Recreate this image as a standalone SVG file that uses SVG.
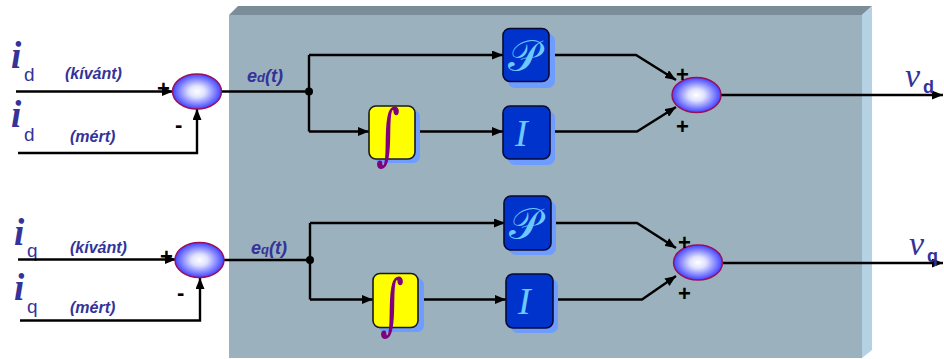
<svg xmlns="http://www.w3.org/2000/svg" width="944" height="359" viewBox="0 0 944 359">
  <defs>
    <radialGradient id="sumFill" cx="0.5" cy="0.5" r="0.55">
      <stop offset="0" stop-color="#ffffff"/>
      <stop offset="0.3" stop-color="#dfe2ff"/>
      <stop offset="1" stop-color="#2a2aff"/>
    </radialGradient>
    <marker id="arrow" markerUnits="userSpaceOnUse" markerWidth="11" markerHeight="9" refX="11" refY="4.5" orient="auto">
      <path d="M0,0 L11,4.5 L0,9 z" fill="#000"/>
    </marker>
  </defs>
  <style>
    .wire { fill: none; stroke: #000; stroke-width: 2.4; }
    .arr { marker-end: url(#arrow); }
    .sum { fill: url(#sumFill); stroke: #99105a; stroke-width: 1.4; }
    .shadow { fill: #6f9cff; }
    .gain { fill: #0033cc; stroke: #0a0a30; stroke-width: 1.6; }
    .integ { fill: #ffff00; stroke: #1a1a1a; stroke-width: 1.6; }
    .gtxt { fill: #6cc8ff; font-family: "Liberation Serif", serif; font-style: italic; font-size: 38px; }
    .ptxt { fill: #6cc8ff; font-family: "DejaVu Serif", serif; font-size: 44px; }
    .itxt { fill: #800080; font-family: "DejaVu Serif", serif; font-size: 46px; }
    .big { fill: #333399; font-family: "Liberation Serif", serif; font-style: italic; font-weight: bold; font-size: 37px; }
    .sub { fill: #333399; font-family: "Liberation Sans", sans-serif; font-size: 19px; }
    .note { fill: #333399; font-family: "Liberation Sans", sans-serif; font-style: italic; font-weight: bold; font-size: 16px; }
    .err { fill: #333399; font-family: "Liberation Sans", sans-serif; font-style: italic; font-weight: bold; font-size: 18px; }
    .sign { fill: #000; font-family: "Liberation Sans", sans-serif; font-weight: bold; font-size: 22px; }
    .out { fill: #333399; font-family: "Liberation Serif", serif; font-style: italic; font-size: 34px; }
    .osub { fill: #333399; font-family: "Liberation Sans", sans-serif; font-weight: bold; font-size: 18px; }
  </style>

  <!-- controller housing (extruded panel) -->
  <g id="housing">
    <polygon points="229,15 238,6 872,6 862,15" fill="#7b8d98"/>
    <polygon points="862,15 872,6 872,350 862,358" fill="#b5d2e4"/>
    <rect x="229" y="15" width="633" height="343" fill="#9bb1be"/>
  </g>

  <!-- input labels -->
  <g id="labels-d">
    <text class="big" x="11" y="68">i</text>
    <text class="sub" x="24" y="81">d</text>
    <text class="note" x="65" y="79">(kívánt)</text>
    <text class="big" x="11" y="127">i</text>
    <text class="sub" x="24" y="141">d</text>
    <text class="note" x="70" y="142">(mért)</text>
    <text class="err" x="247" y="82">e<tspan font-size="13">d</tspan>(t)</text>
  </g>
  <g id="labels-q">
    <text class="big" x="14" y="245">i</text>
    <text class="sub" x="27" y="257">q</text>
    <text class="note" x="70" y="253">(kívánt)</text>
    <text class="big" x="14" y="300">i</text>
    <text class="sub" x="27" y="313">q</text>
    <text class="note" x="70" y="313">(mért)</text>
    <text class="err" x="251" y="254">e<tspan font-size="13">q</tspan>(t)</text>
  </g>

  <!-- connectors -->
  <g id="connectors">
    <path class="wire arr" d="M16,91.5 H173"/>
    <path class="wire arr" d="M18,153 H197 V109"/>
    <path class="wire" d="M221,91.5 H309"/>
    <path class="wire" d="M309,55 V131.5"/>
    <path class="wire arr" d="M309,55 H503"/>
    <path class="wire arr" d="M309,131.5 H369"/>
    <path class="wire arr" d="M415,131.5 H503"/>
    <path class="wire arr" d="M550,55 H636 L676,80"/>
    <path class="wire arr" d="M550,131.5 H637 L676,107"/>
    <path class="wire arr" d="M721,95 H943"/>
    <circle cx="309" cy="91.5" r="4" fill="#000"/>

    <path class="wire arr" d="M18,259.5 H176"/>
    <path class="wire arr" d="M20,320.5 H200 V278"/>
    <path class="wire" d="M224,260 H310"/>
    <path class="wire" d="M310,223 V299.5"/>
    <path class="wire arr" d="M310,223 H505"/>
    <path class="wire arr" d="M310,299.5 H373"/>
    <path class="wire arr" d="M418,299.5 H506"/>
    <path class="wire arr" d="M551,223 H637 L676,248"/>
    <path class="wire arr" d="M553,299.5 H642 L676,276"/>
    <path class="wire arr" d="M722,263 H943"/>
    <circle cx="310" cy="260" r="4" fill="#000"/>
  </g>

  <!-- d-axis channel -->
  <g id="sum-in-d">
    <ellipse class="sum" cx="197" cy="91.5" rx="24.5" ry="17.5"/>
    <text class="sign" x="157" y="96">+</text>
    <text class="sign" x="175" y="132">-</text>
  </g>
  <g id="integ-d">
    <rect class="shadow" x="374" y="110" width="46" height="53" rx="7"/>
    <rect class="integ" x="369" y="106" width="46" height="53" rx="7"/>
    <text class="itxt" x="376" y="158" transform="translate(0,-72) scale(1,1.45)">∫</text>
  </g>
  <g id="p-d">
    <rect class="shadow" x="508" y="34" width="47" height="54" rx="7"/>
    <rect class="gain" x="503" y="28.5" width="46" height="53" rx="7"/>
    <text class="ptxt" x="508" y="71">𝒫</text>
  </g>
  <g id="i-d">
    <rect class="shadow" x="508" y="111" width="47" height="54" rx="7"/>
    <rect class="gain" x="503" y="106" width="47" height="53" rx="7"/>
    <text class="gtxt" x="515" y="146">I</text>
  </g>
  <g id="sum-out-d">
    <ellipse class="sum" cx="696.5" cy="95" rx="24.5" ry="17.5"/>
    <text class="sign" x="676" y="82">+</text>
    <text class="sign" x="676" y="134">+</text>
    <text class="out" x="905" y="87">v</text>
    <text class="osub" x="923" y="93">d</text>
  </g>

  <!-- q-axis channel -->
  <g id="sum-in-q">
    <ellipse class="sum" cx="199.5" cy="260" rx="24.5" ry="17.5"/>
    <text class="sign" x="160" y="264">+</text>
    <text class="sign" x="177" y="300">-</text>
  </g>
  <g id="integ-q">
    <rect class="shadow" x="378" y="278" width="46" height="54" rx="7"/>
    <rect class="integ" x="373" y="273.5" width="45" height="54" rx="7"/>
    <text class="itxt" x="380" y="326" transform="translate(0,-146) scale(1,1.45)">∫</text>
  </g>
  <g id="p-q">
    <rect class="shadow" x="509" y="201" width="47" height="54" rx="7"/>
    <rect class="gain" x="504" y="196" width="47" height="54" rx="7"/>
    <text class="ptxt" x="509" y="239">𝒫</text>
  </g>
  <g id="i-q">
    <rect class="shadow" x="511" y="279" width="47" height="54" rx="7"/>
    <rect class="gain" x="506" y="274" width="47" height="54" rx="7"/>
    <text class="gtxt" x="518" y="314">I</text>
  </g>
  <g id="sum-out-q">
    <ellipse class="sum" cx="698" cy="262.5" rx="24.5" ry="17.5"/>
    <text class="sign" x="678" y="250">+</text>
    <text class="sign" x="678" y="301">+</text>
    <text class="out" x="909" y="255">v</text>
    <text class="osub" x="927" y="262">q</text>
  </g>
</svg>
